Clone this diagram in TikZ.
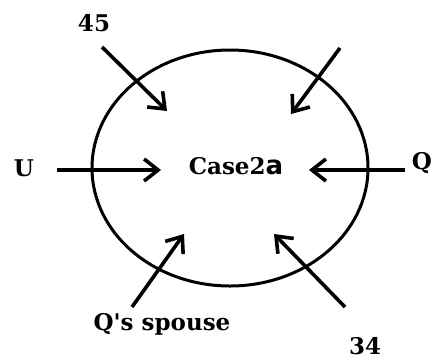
\documentclass[tikz,border=0pt]{standalone}
\usepackage{fontspec}
\setmainfont{DejaVu Serif}
\newfontfamily\casefont{DejaVu Sans}
\usepackage{tikz}
\usetikzlibrary{arrows.meta}

\tikzset{
  lbl/.style={font=\fontsize{23}{27}\selectfont\bfseries, inner sep=0pt},
  inarrow/.style={line width=3.6pt, -{Straight Barb[length=14pt,width=22pt,line width=3.6pt]}}
}

\begin{document}
\begin{tikzpicture}[x=1pt,y=-1pt]
            \useasboundingbox (0,0) rectangle (441,360);
            % Circle
            \draw[line width=3pt] (230,168) ellipse [x radius=138, y radius=118];
            
            % Centre label
            \node[lbl] (case) at (236,166) {Case2{\casefont\fontsize{26}{30}\selectfont a}};
            
            % Outer labels
            \node[lbl] (n45) at (94,23) {45};
            \node[lbl] (u) at (24,168) {U};
            \node[lbl] (q) at (422,163) {Q};
            \node[lbl] (spouse) at (162,324) {Q\textquotesingle s spouse};
            \node[lbl] (n34) at (365,346) {34};
            
            % Arrow ends
            \coordinate (a1) at (102,47);  \coordinate (b1) at (167,111);
            \coordinate (a2) at (340,48);  \coordinate (b2) at (291,114);
            \coordinate (a3) at (57,170);  \coordinate (b3) at (161,170);
            \coordinate (a4) at (405,170); \coordinate (b4) at (309,170);
            \coordinate (a5) at (132,307); \coordinate (b5) at (184,234);
            \coordinate (a6) at (345,307); \coordinate (b6) at (274,234);
            
            % Arrows
            \draw[inarrow] (a1) -- (b1);
            \draw[inarrow] (a2) -- (b2);
            \draw[inarrow] (a3) -- (b3);
            \draw[inarrow] (a4) -- (b4);
            \draw[inarrow] (a5) -- (b5);
            \draw[inarrow] (a6) -- (b6);
\end{tikzpicture}
\end{document}
